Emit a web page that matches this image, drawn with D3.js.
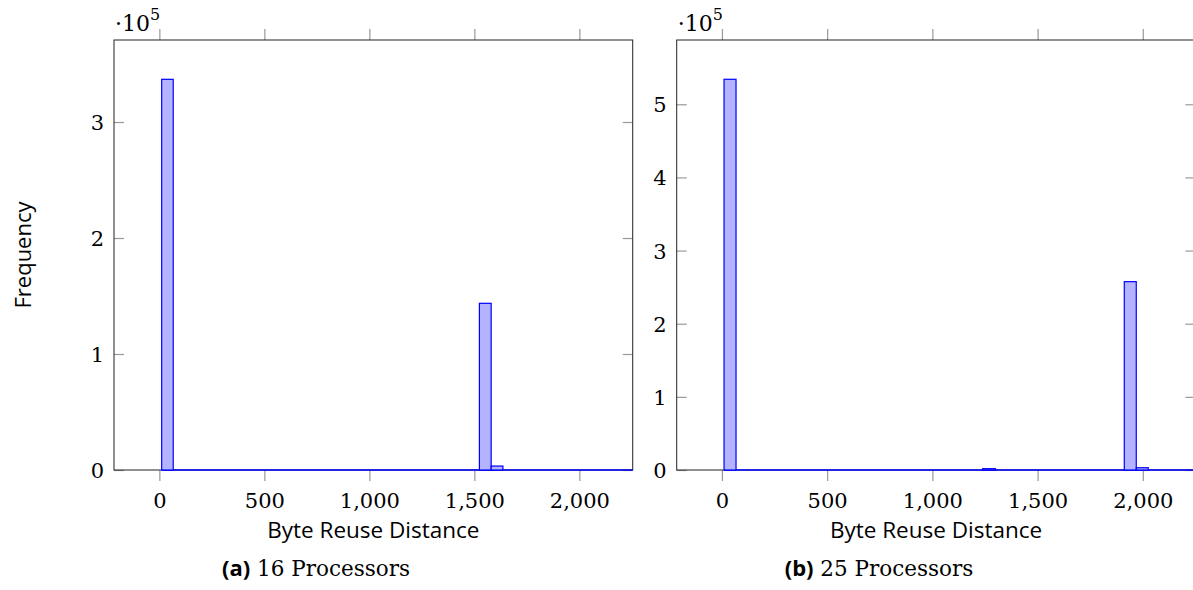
<!DOCTYPE html>
<html>
<head>
<meta charset="utf-8">
<script src="https://cdn.jsdelivr.net/npm/d3@7"></script>
<style>
  body { margin: 0; background: #fff; }
  .tick text { font-family: "DejaVu Serif", serif; font-size: 21px; fill: #000; }
</style>
</head>
<body>
<div id="chart"></div>
<script>

var width = 1193
var height = 590

// histogram bars (bin start, bin end) and counts
var binsA = [[11, 66], [1524, 1580], [1580, 1636]]
var countsA = [336800, 143700, 3400]
var rangeA = [11, 2254]

var binsB = [[10, 67], [1239, 1300], [1912, 1969], [1969, 2026]]
var countsB = [534200, 1800, 257500, 3100]
var rangeB = [10, 2250]

var xTicks = [0, 500, 1000, 1500, 2000]
var yTicksA = [0, 1, 2, 3]
var yTicksB = [0, 1, 2, 3, 4, 5]

var svg = d3.select("#chart").append("svg")
  .attr("width", width)
  .attr("height", height)

var panel = function (opt) {

  var x = d3.scaleLinear()
    .domain(opt.xdomain)
    .range([opt.left, opt.right])

  var y = d3.scaleLinear()
    .domain(opt.ydomain)
    .range([470, 40])

  var g = svg.append("g")

  var fmt = d3.format(",")

  // bottom ticks (outside) with labels
  var bottom = g.append("g")
    .attr("transform", "translate(0,470)")
    .call(d3.axisBottom(x).tickValues(xTicks).tickSize(11).tickSizeOuter(0).tickPadding(12).tickFormat(fmt))
  // top ticks (outside), no labels
  g.append("g")
    .attr("transform", "translate(0,40)")
    .call(d3.axisTop(x).tickValues(xTicks).tickSize(11).tickSizeOuter(0).tickFormat(""))
  // left ticks inside with labels
  var left = g.append("g")
    .attr("transform", "translate(" + opt.left + ",0)")
    .call(d3.axisLeft(y).tickValues(opt.yticks.map(function (d) { return d * 1e5 }))
      .tickSize(-10).tickSizeOuter(0).tickPadding(10).tickFormat(function (d) { return d / 1e5 }))
  g.append("g")
    .attr("transform", "translate(" + opt.right + ",0)")
    .call(d3.axisRight(y).tickValues(opt.yticks.map(function (d) { return d * 1e5 }))
      .tickSize(-10).tickSizeOuter(0).tickFormat(""))

  g.selectAll(".domain").remove()
  g.selectAll(".tick line").attr("stroke", "#999").attr("stroke-width", 1.2)
  bottom.selectAll("text").attr("dy", "0.71em")
  left.selectAll("text").attr("dy", "0.36em")

  // frame
  g.append("rect")
    .attr("x", opt.left)
    .attr("y", 40)
    .attr("width", opt.right - opt.left)
    .attr("height", 430)
    .attr("fill", "none")
    .attr("stroke", "#222")
    .attr("stroke-width", 1)

  // zero-count bins along the baseline
  g.append("line")
    .attr("x1", x(opt.range[0]))
    .attr("x2", x(opt.range[1]))
    .attr("y1", y(0))
    .attr("y2", y(0))
    .attr("stroke", "#0000ff")
    .attr("stroke-width", 1.3)

  g.append("g").selectAll("rect")
    .data(opt.bins)
    .enter()
    .append("rect")
    .attr("x", function (d) { return x(d[0]) })
    .attr("width", function (d) { return x(d[1]) - x(d[0]) })
    .attr("y", function (d, i) { return y(opt.counts[i]) })
    .attr("height", function (d, i) { return y(0) - y(opt.counts[i]) })
    .attr("fill", "#b3b3ff")
    .attr("stroke", "#0000ff")
    .attr("stroke-width", 1.2)

  // exponent label
  var ex = g.append("text")
    .attr("x", opt.left + 1)
    .attr("y", 31)
    .attr("style", "font-family:'DejaVu Serif',serif;font-size:22px;")
  ex.append("tspan").text("\u00b710")
  ex.append("tspan").attr("dy", -11).attr("style", "font-size:16px").text("5")

  // x axis label
  g.append("text")
    .attr("x", (opt.left + opt.right) / 2)
    .attr("y", 538)
    .attr("text-anchor", "middle")
    .attr("style", "font-family:'Open Sans',sans-serif;font-size:22.5px;")
    .text("Byte Reuse Distance")

  // caption
  var cap = g.append("text")
    .attr("x", opt.capx)
    .attr("y", 576)
    .attr("text-anchor", "middle")
  cap.append("tspan")
    .attr("style", "font-family:'Open Sans',sans-serif;font-size:22px;font-weight:bold;")
    .text(opt.tag)
  cap.append("tspan")
    .attr("style", "font-family:'DejaVu Serif',serif;font-size:21.5px;")
    .text(" " + opt.caption)
}

panel({ left: 114, right: 632.7, xdomain: [-216, 2254], ydomain: [0, 370700],
  bins: binsA, counts: countsA, range: rangeA, yticks: yTicksA,
  capx: 316, tag: "(a)", caption: "16 Processors" })

panel({ left: 676.7, right: 1195.4, xdomain: [-215, 2250], ydomain: [0, 587900],
  bins: binsB, counts: countsB, range: rangeB, yticks: yTicksB,
  capx: 879, tag: "(b)", caption: "25 Processors" })

svg.append("text")
  .attr("transform", "translate(31,255) rotate(-90)")
  .attr("text-anchor", "middle")
  .attr("style", "font-family:'Open Sans',sans-serif;font-size:22px;")
  .text("Frequency")

</script>
</body>
</html>
